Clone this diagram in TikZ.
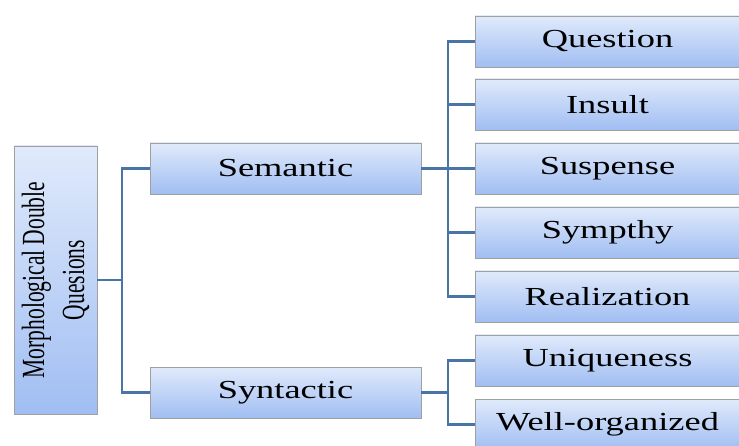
\documentclass[tikz,border=0pt]{standalone}
\usepackage{fontspec}
\setmainfont{Liberation Serif}
\usetikzlibrary{shadows}
\definecolor{linkblue}{RGB}{72,116,166}
\definecolor{boxtop}{RGB}{224,234,251}
\definecolor{boxbot}{RGB}{160,190,242}
\definecolor{boxline}{RGB}{160,160,160}
\begin{document}
\begin{tikzpicture}[x=1pt,y=-1pt,
  box/.style={draw=boxline, line width=0.7pt, top color=boxtop, bottom color=boxbot, inner sep=0pt,
    drop shadow={opacity=0.22, shadow xshift=1.2pt, shadow yshift=-1.2pt},
    font=\fontsize{26}{30}\selectfont},
  leaf/.style={box, minimum width=265, minimum height=51},
  mid/.style={box, minimum width=271, minimum height=51},
  link/.style={draw=linkblue, line width=2.6pt}]
\useasboundingbox (0,0) rectangle (739,446);
\clip (0,0) rectangle (739,446);
\node[box, rotate=90, minimum width=268, minimum height=83,
  align=center, font=\fontsize{21.5}{40}\selectfont] (root) at (55.5,280)
  {\scalebox{1}[1.5]{Morphological Double}\\\scalebox{1}[1.5]{Quesions}};
\node[mid] (sem) at (285.5,168.5) {\scalebox{1.4}[1]{Semantic}};
\node[mid] (syn) at (285.5,392.5) {\scalebox{1.4}[1]{Syntactic}};
\node[leaf] (q) at (607.5,41.5) {\scalebox{1.4}[1]{Question}};
\node[leaf] (ins) at (607.5,104.5) {\scalebox{1.4}[1]{Insult}};
\node[leaf] (sus) at (607.5,168.5) {\scalebox{1.4}[1]{Suspense}};
\node[leaf] (sym) at (607.5,232.5) {\scalebox{1.4}[1]{Sympthy}};
\node[leaf] (rea) at (607.5,296.5) {\scalebox{1.4}[1]{Realization}};
\node[leaf] (uni) at (607.5,360.5) {\scalebox{1.4}[1]{Uniqueness}};
\node[leaf] (wel) at (607.5,424.5) {\scalebox{1.4}[1]{Well-organized}};
\coordinate (j1) at (122,280);
\coordinate (j2) at (448,168.5);
\coordinate (j3) at (448,392.5);
\draw[link] (root.south) -- (j1);
\draw[link] (j1) |- (sem.west);
\draw[link] (j1) |- (syn.west);
\draw[link] (sem.east) -- (j2);
\foreach \n in {q,ins,sus,sym,rea} \draw[link] (j2) |- (\n.west);
\draw[link] (syn.east) -- (j3);
\foreach \n in {uni,wel} \draw[link] (j3) |- (\n.west);
\end{tikzpicture}
\end{document}
